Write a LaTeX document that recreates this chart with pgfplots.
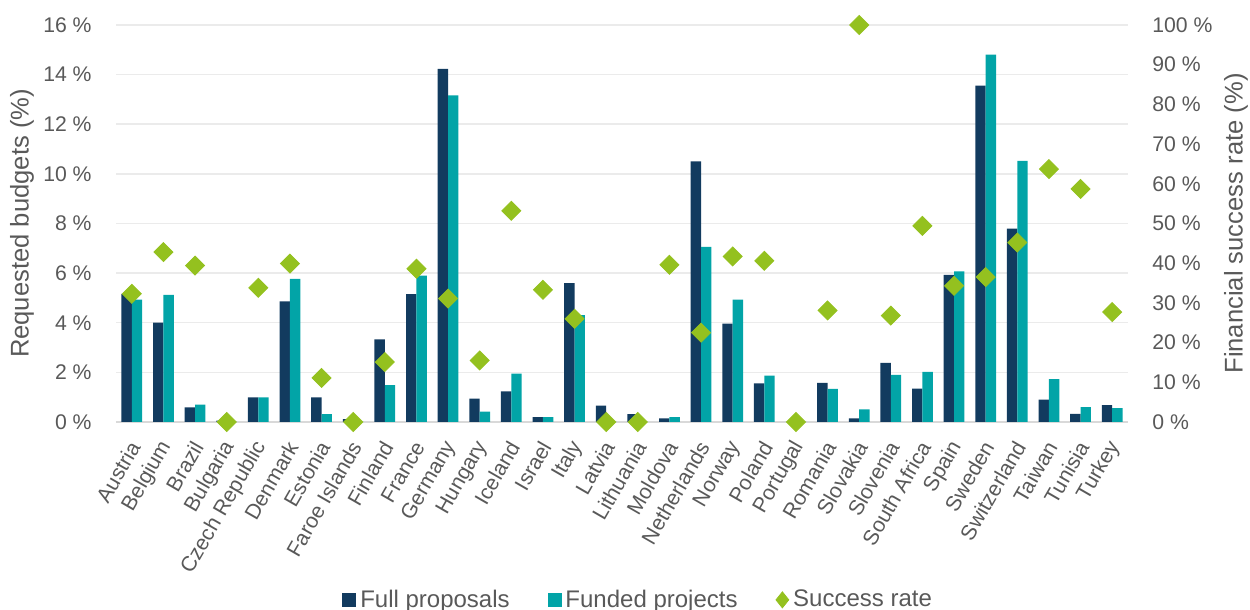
\documentclass[border=0pt]{standalone}
\usepackage{pgfplots}
\pgfplotsset{compat=1.18}
\usepackage{pgfplotstable}
\usepackage{fontspec}
\setmainfont{Liberation Sans}

\definecolor{fullcol}{HTML}{123B5F}
\definecolor{fundcol}{HTML}{02A4A7}
\definecolor{ratecol}{HTML}{94C11F}
\definecolor{txtgray}{HTML}{595959}
\definecolor{gridgray}{HTML}{EBEBEB}
\definecolor{basegray}{HTML}{D9D9D9}

% share of requested budget (%), funded projects (%), financial success rate (%)
\pgfplotstableread{
idx full  funded rate
0   5.16  4.93   32.3
1   4.00  5.12   42.8
2   0.59  0.70   39.4
3   0.06  0.00   0.0
4   0.99  0.99   33.8
5   4.86  5.77   39.9
6   0.99  0.32   11.1
7   0.12  0.00   0.0
8   3.33  1.49   15.1
9   5.15  5.90   38.6
10  14.23 13.16  31.1
11  0.94  0.42   15.5
12  1.23  1.95   53.2
13  0.20  0.20   33.3
14  5.60  4.31   26.0
15  0.66  0.00   0.0
16  0.32  0.00   0.0
17  0.15  0.20   39.6
18  10.50 7.06   22.5
19  3.96  4.93   41.7
20  1.56  1.87   40.6
21  0.00  0.00   0.0
22  1.58  1.33   28.1
23  0.15  0.51   100.0
24  2.38  1.90   26.8
25  1.35  2.02   49.4
26  5.93  6.07   34.3
27  13.56 14.81  36.5
28  7.79  10.52  45.2
29  0.90  1.73   63.7
30  0.33  0.60   58.7
31  0.68  0.56   27.7
}\datatable

\pgfplotsset{
  common/.style={
    width=506pt, height=198.5pt, scale only axis,
    at={(0,0)}, anchor=south west,
    xmin=-0.5, xmax=31.5, ymin=0,
    /pgf/number format/assume math mode=true,
    tick label style={font=\fontsize{10.6}{12}\selectfont, text=txtgray},
    major tick length=0pt,
    label style={font=\fontsize{12.8}{15}\selectfont, text=txtgray},
  }
}

\begin{document}
\begin{tikzpicture}
\path[use as bounding box] (-58pt,-94pt) rectangle (567pt,211pt);

% left axis: bars
\begin{axis}[common,
  axis x line*=bottom, axis y line*=left,
  x axis line style={draw=none}, y axis line style={draw=none},
  ymax=16, ytick={0,2,...,16},
  yticklabel={\pgfmathprintnumber{\tick}~\%},
  yticklabel style={anchor=east, inner sep=0pt, xshift=-12pt},
  ymajorgrids, grid style={gridgray, line width=0.75pt},
  extra y ticks={0}, extra y tick labels={},
  extra y tick style={grid style={basegray, line width=1pt}},
  xtick={0,...,31},
  xticklabels={Austria, Belgium, Brazil, Bulgaria, Czech Republic, Denmark,
    Estonia, Faroe Islands, Finland, France, Germany, Hungary, Iceland, Israel,
    Italy, Latvia, Lithuania, Moldova, Netherlands, Norway, Poland, Portugal,
    Romania, Slovakia, Slovenia, South Africa, Spain, Sweden, Switzerland,
    Taiwan, Tunisia, Turkey},
  x tick label style={xshift=1.5pt, yshift=-10.5pt, rotate=60, anchor=east, inner sep=0pt},
  ybar=0pt, bar width=5.2pt,
  ylabel={Requested budgets (\%)},
  ylabel style={at={(axis description cs:-0.0929,0.5)}, anchor=center},
]
\addplot[fill=fullcol, draw=none] table[x=idx, y=full] {\datatable};
\addplot[fill=fundcol, draw=none] table[x=idx, y=funded] {\datatable};
\end{axis}

% right axis: success rate
\begin{axis}[common,
  ymax=100, ytick={0,10,...,100},
  hide x axis, axis y line*=right, y axis line style={draw=none},
  clip=false,
  yticklabel={\pgfmathprintnumber{\tick}~\%},
  yticklabel style={anchor=west, inner sep=0pt, xshift=12pt},
  ylabel={Financial success rate (\%)},
  ylabel style={at={(axis description cs:1.1067,0.5)}, anchor=center, rotate=0},
  legend columns=3,
  legend style={at={(axis description cs:0.517,-0.448)}, anchor=center,
    draw=none, fill=none, font=\fontsize{12}{14}\selectfont, text=txtgray,
    /tikz/every even column/.append style={column sep=17pt}},
]
\addlegendimage{legend image code/.code={\fill[fullcol] (0pt,-3.25pt) rectangle (6.5pt,3.25pt);}}
\addlegendentry{Full proposals}
\addlegendimage{legend image code/.code={\fill[fundcol] (0pt,-3.25pt) rectangle (6.5pt,3.25pt);}}
\addlegendentry{Funded projects}
\addplot[only marks, color=ratecol, mark=square*, mark size=3.36pt,
  mark options={rotate=45, fill=ratecol, draw=none},
  legend image code/.code={\fill[ratecol] (0pt,0pt) -- (3.2pt,4pt) -- (6.4pt,0pt) -- (3.2pt,-4pt) -- cycle;}]
  table[x=idx, y=rate] {\datatable};
\addlegendentry{Success rate}
\end{axis}
\end{tikzpicture}
\end{document}
